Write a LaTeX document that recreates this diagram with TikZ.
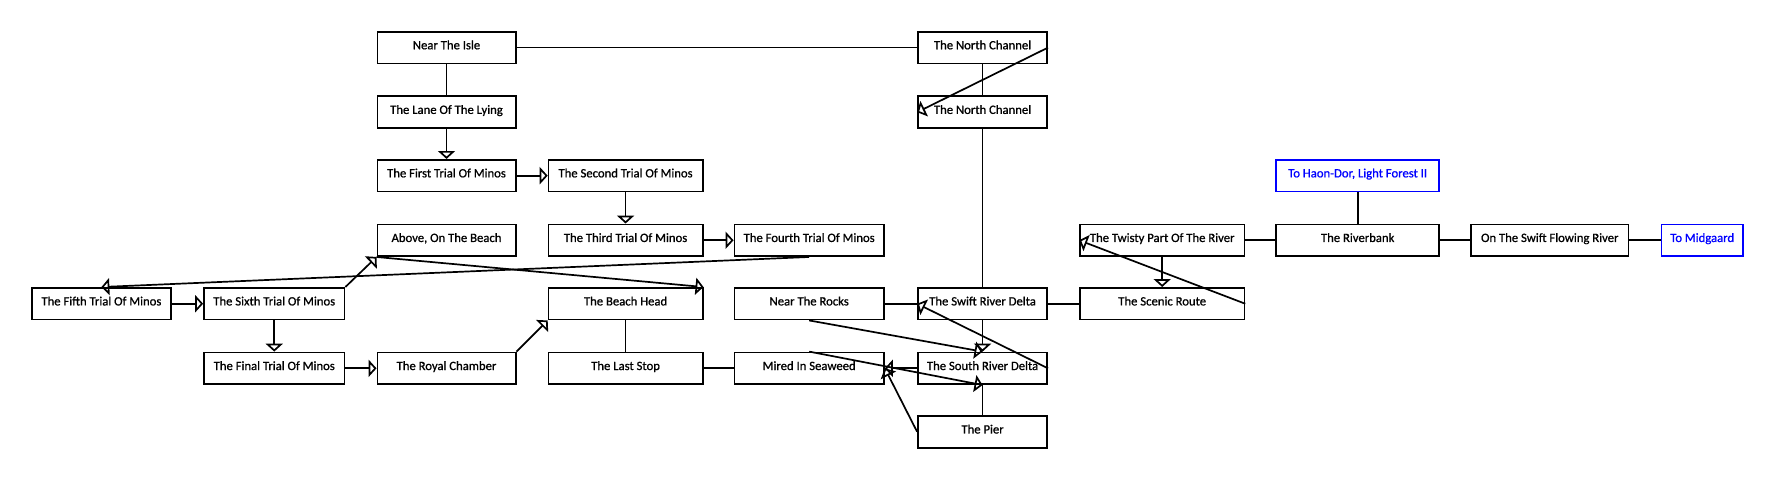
\documentclass[tikz,border=0pt]{standalone}
\usepackage{fontspec}
\setmainfont{Carlito}
\newfontfamily\roomfont{Carlito}[FakeBold=0.9]
\usetikzlibrary{arrows.meta}
\definecolor{exitblue}{RGB}{0,0,255}
\begin{document}
\begin{tikzpicture}[x=1pt,y=1pt,
  room/.style={draw=black, line width=1.5pt, fill=white, minimum height=28pt, inner sep=0pt,
    text height=7.3pt, text depth=4.3pt,
    font=\roomfont\fontsize{11.2}{12}\selectfont, text=black},
  exitroom/.style={room, draw=exitblue, text=exitblue},
  link/.style={line width=1.5pt, draw=black},
  dirlink/.style={link, -{Triangle[open, length=7pt, width=15pt, line width=1.5pt]}}
]
\useasboundingbox (0,0) rectangle (1568,-424);
% columns: A 89.5/123, B 242/124, C 394/122, D 552/136, E 714/132, F 867/114, G 1025.5/145, H 1198/144, I 1367.5/139, J 1502/72
% rows: 42, 99, 155, 212, 268, 325, 381
\node[room, minimum width=122pt] (isle) at (394,-42) {Near The Isle};
\node[room, minimum width=114pt] (nc1) at (867,-42) {The North Channel};
\node[room, minimum width=122pt] (lane) at (394,-99) {The Lane Of The Lying};
\node[room, minimum width=114pt] (nc2) at (867,-99) {The North Channel};
\node[room, minimum width=122pt] (t1) at (394,-155) {The First Trial Of Minos};
\node[room, minimum width=136pt] (t2) at (552,-155) {The Second Trial Of Minos};
\node[exitroom, minimum width=144pt] (haon) at (1198,-155) {To Haon-Dor, Light Forest II};
\node[room, minimum width=122pt] (above) at (394,-212) {Above, On The Beach};
\node[room, minimum width=136pt] (t3) at (552,-212) {The Third Trial Of Minos};
\node[room, minimum width=132pt] (t4) at (714,-212) {The Fourth Trial Of Minos};
\node[room, minimum width=145pt] (twisty) at (1025.5,-212) {The Twisty Part Of The River};
\node[room, minimum width=144pt] (riverbank) at (1198,-212) {The Riverbank};
\node[room, minimum width=139pt] (swiftflow) at (1367.5,-212) {On The Swift Flowing River};
\node[exitroom, minimum width=72pt] (midgaard) at (1502,-212) {To Midgaard};
\node[room, minimum width=123pt] (t5) at (89.5,-268) {The Fifth Trial Of Minos};
\node[room, minimum width=124pt] (t6) at (242,-268) {The Sixth Trial Of Minos};
\node[room, minimum width=136pt] (beachhead) at (552,-268) {The Beach Head};
\node[room, minimum width=132pt] (rocks) at (714,-268) {Near The Rocks};
\node[room, minimum width=114pt] (swiftdelta) at (867,-268) {The Swift River Delta};
\node[room, minimum width=145pt] (scenic) at (1025.5,-268) {The Scenic Route};
\node[room, minimum width=124pt] (tfinal) at (242,-325) {The Final Trial Of Minos};
\node[room, minimum width=122pt] (royal) at (394,-325) {The Royal Chamber};
\node[room, minimum width=136pt] (laststop) at (552,-325) {The Last Stop};
\node[room, minimum width=132pt] (mired) at (714,-325) {Mired In Seaweed};
\node[room, minimum width=114pt] (southdelta) at (867,-325) {The South River Delta};
\node[room, minimum width=114pt] (pier) at (867,-381) {The Pier};

% connectors
\draw[link] (isle.east) -- (nc1.west);
\draw[link] (isle.south) -- (lane.north);
\draw[dirlink] (lane.south) -- (t1.north);
\draw[dirlink] (t1.east) -- (t2.west);
\draw[dirlink] (t2.south) -- (t3.north);
\draw[dirlink] (t3.east) -- (t4.west);
\draw[link] (nc1.south) -- (nc2.north);
\draw[dirlink] (nc1.east) -- (nc2.west);
\draw[link] (nc2.south) -- (swiftdelta.north);
\draw[dirlink] (t4.south) -- (t5.north);
\draw[dirlink] (t5.east) -- (t6.west);
\draw[dirlink] (t6.north east) -- (above.south west);
\draw[dirlink] (above.south west) -- (beachhead.north east);
\draw[dirlink] (t6.south) -- (tfinal.north);
\draw[dirlink] (tfinal.east) -- (royal.west);
\draw[dirlink] (royal.north east) -- (beachhead.south west);
\draw[link] (beachhead.south) -- (laststop.north);
\draw[link] (laststop.east) -- (mired.west);
\draw[link] (rocks.east) -- (swiftdelta.west);
\draw[link] (swiftdelta.east) -- (scenic.west);
\draw[dirlink] (swiftdelta.south) -- (southdelta.north);
\draw[dirlink] (rocks.south) -- (southdelta.north);
\draw[dirlink] (southdelta.east) -- (swiftdelta.west);
\draw[dirlink] (mired.north) -- (southdelta.south);
\draw[dirlink] (southdelta.west) -- (mired.east);
\draw[dirlink] (pier.west) -- (mired.east);
\draw[link] (pier.north) -- (southdelta.south);
\draw[link] (haon.south) -- (riverbank.north);
\draw[link] (twisty.east) -- (riverbank.west);
\draw[link] (riverbank.east) -- (swiftflow.west);
\draw[link] (swiftflow.east) -- (midgaard.west);
\draw[dirlink] (twisty.south) -- (scenic.north);
\draw[dirlink] (scenic.east) -- (twisty.west);
\end{tikzpicture}
\end{document}
